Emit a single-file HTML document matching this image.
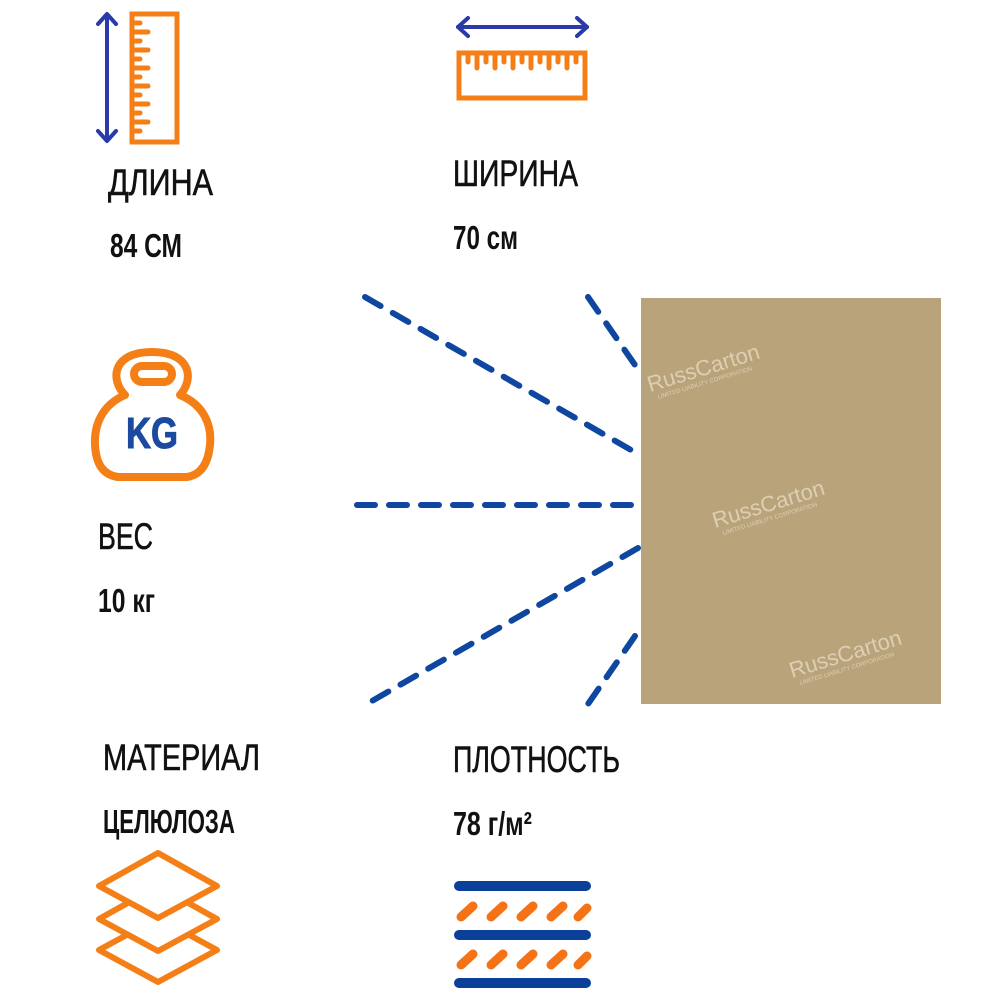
<!DOCTYPE html>
<html><head><meta charset="utf-8"><style>
html,body{margin:0;padding:0;background:#fff;width:1000px;height:1000px;overflow:hidden}
svg{display:block}
text{font-family:"Liberation Sans Narrow","Liberation Sans",sans-serif;fill:#111}
.t{stroke:#111;stroke-width:0.6}
</style></head><body>
<svg width="1000" height="1000" viewBox="0 0 1000 1000" xmlns="http://www.w3.org/2000/svg">
<rect x="641" y="298" width="300" height="406" fill="#b9a37a"/>
<g font-family="Liberation Sans,sans-serif">
<g transform="translate(650,392) rotate(-17)"><text x="0" y="0" font-size="22" style="fill:#dccfb4">RussCarton</text><text x="6" y="9" font-size="6" style="fill:#dccfb4">LIMITED LIABILITY CORPORATION</text></g>
<g transform="translate(715,528) rotate(-17)"><text x="0" y="0" font-size="22" style="fill:#dccfb4">RussCarton</text><text x="6" y="9" font-size="6" style="fill:#dccfb4">LIMITED LIABILITY CORPORATION</text></g>
<g transform="translate(792,678) rotate(-17)"><text x="0" y="0" font-size="22" style="fill:#dccfb4">RussCarton</text><text x="6" y="9" font-size="6" style="fill:#dccfb4">LIMITED LIABILITY CORPORATION</text></g>
</g>
<g stroke="#0e46a0" stroke-width="6" stroke-linecap="round" stroke-dasharray="18 14" fill="none">
<line x1="365" y1="297" x2="638" y2="454"/>
<line x1="588" y1="297" x2="635" y2="365"/>
<line x1="357" y1="505" x2="638" y2="505"/>
<line x1="638" y1="548" x2="365" y2="705"/>
<line x1="635" y1="636" x2="588" y2="704"/>
</g>
<g stroke="#2a3aa8" stroke-width="4" fill="none" stroke-linecap="round" stroke-linejoin="round">
<line x1="107" y1="15" x2="107" y2="140"/>
<polyline points="98,24 107,14 116,24"/>
<polyline points="98,131 107,141 116,131"/>
</g>
<g stroke="#f57f17" stroke-width="5" fill="none" stroke-linecap="round">
<rect x="132" y="14" width="45" height="128"/>
<path d="M132 23h8M132 32h16M132 41h8M132 50h16M132 59h8M132 68h16M132 77h8M132 86h16M132 95h8M132 104h16M132 113h8M132 122h16M132 131h8"/>
</g>
<g stroke="#2a3aa8" stroke-width="4" fill="none" stroke-linecap="round" stroke-linejoin="round">
<line x1="458" y1="27" x2="587" y2="27"/>
<polyline points="468,18 458,27 468,36"/>
<polyline points="577,18 587,27 577,36"/>
</g>
<g stroke="#f57f17" stroke-width="5" fill="none" stroke-linecap="round">
<rect x="459" y="53" width="126" height="45"/>
<path d="M468 55v7M477 55v13M486 55v7M495 55v13M504 55v7M513 55v13M522 55v7M531 55v13M540 55v7M549 55v13M558 55v7M567 55v13M576 55v7"/>
</g>
<g stroke="#f57f17" stroke-width="8" fill="none" stroke-linejoin="round">
<path d="M125 395 C110 380 112 352 152 352 C192 352 194 380 180 395 C204 405 212 425 210 445 C208 465 200 475 187 477 L118 477 C104 475 96 465 95 445 C94 425 102 405 125 395 Z"/>
<rect x="134" y="366" width="38" height="16" rx="8"/>
</g>
<text x="152" y="448" text-anchor="middle" font-size="44" font-weight="bold" style="fill:#1c4aa0;stroke:#1c4aa0;stroke-width:1" textLength="52" lengthAdjust="spacingAndGlyphs">KG</text>
<g stroke="#f57f17" stroke-width="6" fill="#fff" stroke-linejoin="round">
<polygon points="158,918 217,950 158,982 99,950"/>
<polygon points="158,886 217,919 158,951 99,919"/>
<polygon points="158,853 217,886 158,918 99,886"/>
</g>
<g stroke="#0a3f9a" stroke-width="10" stroke-linecap="round">
<line x1="459" y1="886" x2="586" y2="886"/>
<line x1="459" y1="935" x2="586" y2="935"/>
<line x1="459" y1="983" x2="586" y2="983"/>
</g>
<g stroke="#f57317" stroke-width="9" stroke-linecap="round">
<path d="M461 917l12-11M491 917l12-11M521 917l12-11M551 917l12-11M578 917l9-9"/>
<path d="M461 965l12-11M491 965l12-11M521 965l12-11M551 965l12-11M578 965l9-9"/>
</g>
<text class="t" x="108" y="195" font-size="37" textLength="105" lengthAdjust="spacingAndGlyphs">ДЛИНА</text>
<text x="110" y="257" font-size="33" font-weight="bold" textLength="72" lengthAdjust="spacingAndGlyphs">84 СМ</text>
<text class="t" x="453" y="186" font-size="37" textLength="125" lengthAdjust="spacingAndGlyphs">ШИРИНА</text>
<text x="453" y="249" font-size="33" font-weight="bold" textLength="65" lengthAdjust="spacingAndGlyphs">70 см</text>
<text class="t" x="98" y="549" font-size="37" textLength="55" lengthAdjust="spacingAndGlyphs">ВЕС</text>
<text x="98" y="612" font-size="33" font-weight="bold" textLength="57" lengthAdjust="spacingAndGlyphs">10 кг</text>
<text class="t" x="103" y="770" font-size="37" textLength="157" lengthAdjust="spacingAndGlyphs">МАТЕРИАЛ</text>
<text x="103" y="833" font-size="33" font-weight="bold" textLength="132" lengthAdjust="spacingAndGlyphs">ЦЕЛЮЛОЗА</text>
<text class="t" x="453" y="772" font-size="37" textLength="167" lengthAdjust="spacingAndGlyphs">ПЛОТНОСТЬ</text>
<text x="453" y="835" font-size="33" font-weight="bold" textLength="79" lengthAdjust="spacingAndGlyphs">78 г/м²</text>
</svg>
</body></html>
